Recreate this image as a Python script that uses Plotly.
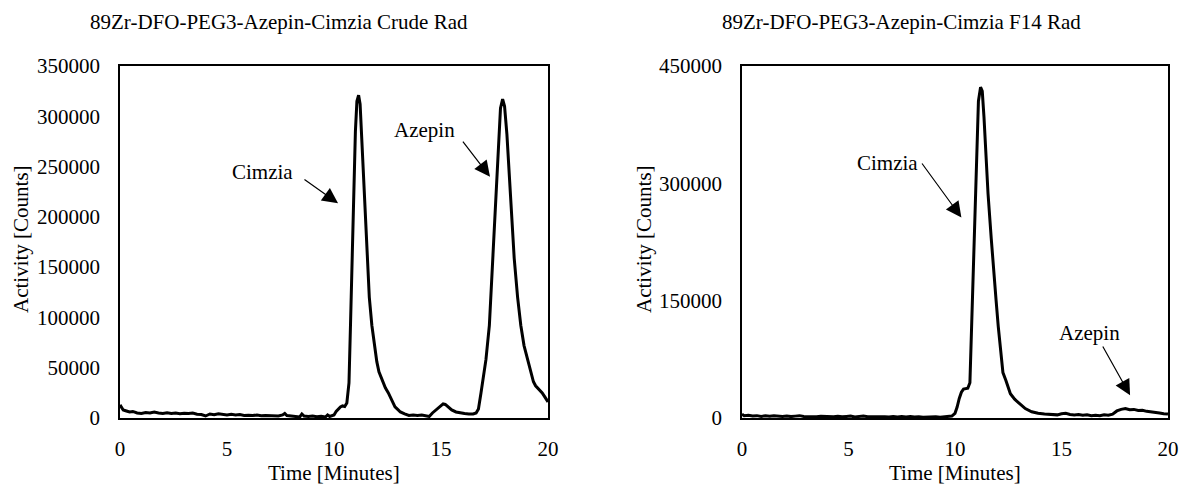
import plotly.graph_objects as go

# ---------------- data ----------------
crude_time = [0.0, 0.05, 0.15, 0.3, 0.45, 0.6, 0.8, 1.0, 1.2, 1.4, 1.6, 1.8, 2.0, 2.2, 2.4, 2.6, 2.8, 3.0,
              3.2, 3.4, 3.6, 3.8, 4.0, 4.2, 4.4, 4.6, 4.8, 5.0, 5.2, 5.4, 5.6, 5.8, 6.0, 6.2, 6.4, 6.6,
              6.8, 7.0, 7.2, 7.4, 7.6, 7.7, 7.8, 8.0, 8.2, 8.4, 8.5, 8.6, 8.8, 9.0, 9.2, 9.4, 9.6, 9.7,
              9.8, 9.9, 10.0, 10.1, 10.2, 10.3, 10.4, 10.5, 10.6, 10.7, 10.77, 10.85, 10.92, 11.0, 11.07,
              11.15, 11.22, 11.3, 11.36, 11.42, 11.54, 11.65, 11.77, 11.88, 12.0, 12.1, 12.2, 12.3, 12.4,
              12.54, 12.7, 12.85, 13.0, 13.1, 13.3, 13.5, 13.7, 13.9, 14.1, 14.3, 14.45, 14.6, 14.8, 15.0,
              15.1, 15.2, 15.35, 15.5, 15.7, 15.9, 16.1, 16.3, 16.5, 16.64, 16.75, 16.87, 17.0, 17.1, 17.26,
              17.42, 17.57, 17.68, 17.78, 17.88, 17.97, 18.08, 18.22, 18.32, 18.42, 18.58, 18.73, 18.88,
              19.04, 19.2, 19.32, 19.42, 19.55, 19.73, 19.85, 19.95, 20.0]
crude_counts = [13000, 11000, 8000, 7000, 6000, 6500, 5000, 4500, 5500, 5000, 6000, 5000, 4500, 5200, 4600,
                5000, 4200, 4800, 4400, 5000, 3800, 3500, 2000, 4000, 3200, 4200, 3500, 3000, 3600, 3000,
                3400, 2600, 2800, 2400, 3000, 2300, 2500, 2200, 2600, 2000, 3000, 4500, 2500, 1800, 1500,
                1000, 4000, 2000, 1500, 2000, 1200, 1800, 1000, 3000, 1500, 2000, 3000, 6500, 9000, 11000,
                12000, 11500, 15000, 35000, 92000, 160000, 226000, 285000, 315000, 321000, 312000, 275000,
                240000, 215000, 159000, 120000, 92000, 72000, 56000, 46000, 40000, 35000, 30000, 25000,
                17000, 11000, 8000, 6000, 4000, 2500, 3000, 2500, 3000, 2500, 1500, 5000, 9000, 12500,
                14000, 13500, 11000, 8000, 6000, 5000, 4500, 4000, 4000, 5000, 9000, 25000, 42000, 58000,
                92000, 159000, 226000, 280000, 308000, 317000, 310000, 282000, 226000, 190000, 159000,
                120000, 92000, 72000, 58000, 45000, 36000, 32000, 29000, 25000, 21000, 17000, 16000]

f14_time = [0.0, 0.1, 0.3, 0.5, 0.7, 0.9, 1.1, 1.3, 1.5, 1.7, 1.9, 2.1, 2.3, 2.5, 2.7, 2.9, 3.1, 3.3, 3.5,
            3.7, 3.9, 4.1, 4.3, 4.5, 4.7, 4.9, 5.1, 5.3, 5.5, 5.7, 5.9, 6.1, 6.3, 6.5, 6.7, 6.9, 7.1, 7.3,
            7.5, 7.7, 7.9, 8.1, 8.3, 8.5, 8.7, 8.9, 9.1, 9.3, 9.5, 9.7, 9.85, 10.0, 10.1, 10.2, 10.3, 10.4,
            10.5, 10.6, 10.7, 10.78, 10.86, 10.94, 11.02, 11.1, 11.2, 11.28, 11.36, 11.45, 11.55, 11.7,
            11.83, 11.93, 12.03, 12.12, 12.19, 12.25, 12.39, 12.5, 12.6, 12.8, 13.05, 13.3, 13.6, 13.9,
            14.2, 14.5, 14.8, 15.0, 15.2, 15.4, 15.6, 15.8, 16.0, 16.2, 16.4, 16.6, 16.8, 17.0, 17.2, 17.4,
            17.6, 17.8, 18.0, 18.2, 18.4, 18.6, 18.8, 19.0, 19.2, 19.4, 19.6, 19.8, 20.0]
f14_counts = [5000, 3000, 3500, 2500, 3000, 2000, 2800, 2200, 3000, 2400, 2000, 2600, 1800, 2400, 3000,
              2000, 1800, 2400, 1600, 2200, 1800, 2000, 1500, 2200, 1600, 2000, 2400, 1400, 1800, 2600,
              1600, 1800, 1400, 2000, 1600, 1200, 1800, 1400, 2000, 1400, 1800, 1200, 1600, 1000, 1500,
              1200, 1600, 1000, 1400, 1800, 2500, 6000, 14000, 25000, 33000, 37000, 38000, 38000, 45000,
              117000, 202000, 287000, 360000, 405000, 423000, 418000, 385000, 340000, 287000, 230000,
              190000, 150000, 117000, 92000, 74000, 58000, 48000, 38000, 31000, 24000, 18000, 12000, 8000,
              6000, 5000, 4500, 4000, 5500, 6000, 4500, 4000, 4500, 3500, 4000, 3000, 3500, 3000, 4000,
              3500, 5000, 9000, 11000, 12000, 10500, 11000, 9500, 10000, 8500, 8000, 7000, 6500, 5500, 5000]

titles = ["89Zr-DFO-PEG3-Azepin-Cimzia Crude Rad", "89Zr-DFO-PEG3-Azepin-Cimzia F14 Rad"]
x_title = "Time [Minutes]"
y_title = "Activity [Counts]"
x_ticks = [0, 5, 10, 15, 20]
crude_y_ticks = [0, 50000, 100000, 150000, 200000, 250000, 300000, 350000]
f14_y_ticks = [0, 150000, 300000, 450000]

FONT = "Liberation Serif, Times New Roman, serif"
W, H = 1181, 484
FS = 21

fig = go.Figure()
fig.add_trace(go.Scatter(x=crude_time, y=crude_counts, mode="lines",
                         line=dict(color="black", width=3), xaxis="x", yaxis="y",
                         showlegend=False, hoverinfo="skip"))
fig.add_trace(go.Scatter(x=f14_time, y=f14_counts, mode="lines",
                         line=dict(color="black", width=3), xaxis="x2", yaxis="y2",
                         showlegend=False, hoverinfo="skip"))

ydom = [(H - 418) / H, (H - 66) / H]
axis_common = dict(showline=True, linecolor="black", linewidth=1.5, mirror=True,
                   showgrid=False, zeroline=False, ticks="", automargin=False,
                   tickfont=dict(family=FONT, size=FS, color="black"))

fig.update_layout(
    template="none",
    width=W, height=H, autosize=False,
    margin=dict(l=0, r=0, t=0, b=0, pad=0),
    paper_bgcolor="white", plot_bgcolor="white",
    font=dict(family=FONT, color="black"),
    showlegend=False,
    xaxis=dict(domain=[120 / W, 548 / W], range=[0, 20], tickvals=x_ticks,
               ticklabelstandoff=11, anchor="y", **axis_common),
    yaxis=dict(domain=ydom, range=[0, 350000], tickvals=crude_y_ticks, tickformat="d",
               ticklabelstandoff=14, anchor="x", **axis_common),
    xaxis2=dict(domain=[742 / W, 1168 / W], range=[0, 20], tickvals=x_ticks,
                ticklabelstandoff=11, anchor="y2", **axis_common),
    yaxis2=dict(domain=ydom, range=[0, 450000], tickvals=f14_y_ticks, tickformat="d",
                ticklabelstandoff=14, anchor="x2", **axis_common),
)

ann = []
# plot titles
for cx, t in ((279, titles[0]), (901, titles[1])):
    ann.append(dict(text=t, xref="paper", yref="paper", x=cx / W, y=(H - 22) / H,
                    xanchor="center", yanchor="middle",
                    showarrow=False, font=dict(family=FONT, size=FS)))
# axis titles
for cx in (334, 955):
    ann.append(dict(text=x_title, xref="paper", yref="paper", x=cx / W, y=(H - 473) / H,
                    xanchor="center", yanchor="middle",
                    showarrow=False, font=dict(family=FONT, size=FS)))
for cx in (21, 644):
    ann.append(dict(text=y_title, xref="paper", yref="paper", x=cx / W, y=(H - 239) / H,
                    xanchor="center", yanchor="middle",
                    textangle=-90, showarrow=False, font=dict(family=FONT, size=FS)))

# peak labels and arrows
labels = [
    # (axis suffix, text, text_x, text_y, tail_x, tail_y, tip_x, tip_y)
    ("", "Cimzia", 6.64, 244600, 8.55, 238300, 10.19, 213500),
    ("", "Azepin", 14.25, 286400, 15.97, 276400, 17.29, 239900),
    ("2", "Cimzia", 6.81, 326400, 8.4, 327300, 10.3, 256300),
    ("2", "Azepin", 16.32, 108600, 16.9, 93300, 18.22, 29000),
]
for sfx, txt, tx, ty, ax, ay, hx, hy in labels:
    ann.append(dict(text=txt, xref="x" + sfx, yref="y" + sfx, x=tx, y=ty, showarrow=False,
                    xanchor="center", yanchor="middle",
                    font=dict(family=FONT, size=FS)))
    ann.append(dict(text="", xref="x" + sfx, yref="y" + sfx, x=hx, y=hy,
                    axref="x" + sfx, ayref="y" + sfx, ax=ax, ay=ay,
                    showarrow=True, arrowhead=2, arrowsize=2.6, arrowwidth=1.2,
                    arrowcolor="black", standoff=0, startstandoff=0))
fig.update_layout(annotations=ann)

fig.write_html("out.html", config={"displayModeBar": False},
               post_script="document.body.style.margin='0';")
